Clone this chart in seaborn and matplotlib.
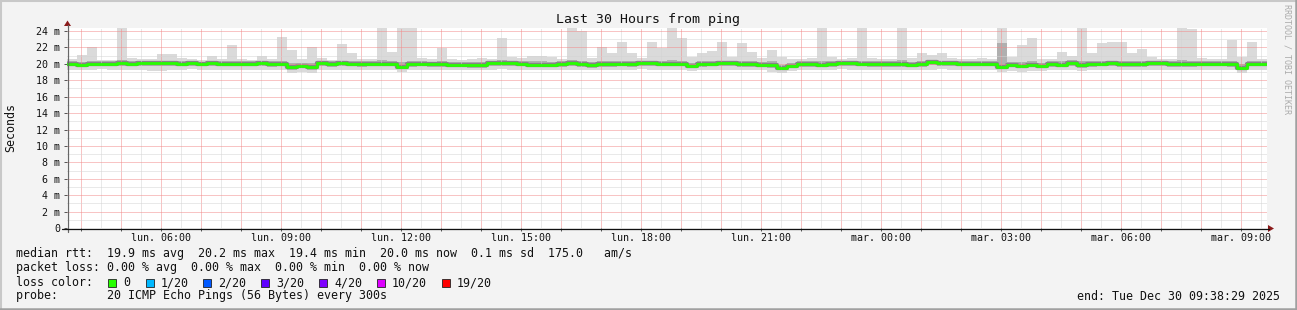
import numpy as np
import pandas as pd
import matplotlib
matplotlib.use("Agg")
import matplotlib.pyplot as plt
import seaborn as sns
from matplotlib.patches import Polygon, Rectangle
from matplotlib.lines import Line2D

# ---------------- data ----------------
START_H = 3 + 38 / 60 + 29 / 3600   # Mon Dec 29 03:38:29, hours since Mon 00:00
STEP_H = 0.25                        # 15 min bins
SPAN_H = 30

median_ms = [20.0,19.85,19.95,20.0,20.0,20.1,20.0,20.05,20.05,20.05,
             20.05,19.95,20.1,19.95,20.05,20.0,20.0,20.0,20.0,20.05,
             19.95,20.0,19.6,19.8,19.65,20.05,19.95,20.05,20.0,19.95,
             20.0,20.0,20.0,19.6,19.95,20.0,19.95,19.95,19.9,19.9,
             19.85,19.85,20.05,20.05,20.05,20.0,19.9,19.9,19.9,19.95,
             20.05,19.95,19.85,19.95,19.95,20.0,19.95,20.05,20.05,20.0,
             20.0,20.0,19.75,19.95,20.0,20.05,20.05,19.95,19.95,19.9,
             19.9,19.5,19.8,19.95,19.95,19.9,19.95,20.05,20.05,20.0,
             19.95,19.95,19.95,19.95,19.9,19.95,20.2,20.05,20.05,20.0,
             20.0,20.0,20.0,19.65,19.9,19.75,19.9,19.8,19.95,19.9,
             20.1,19.85,19.95,20.0,20.05,19.95,19.95,19.95,20.05,20.05,
             19.95,19.95,19.95,20.0,20.0,20.0,19.95,19.5,20.0,20.0]

max_ms = [20.6,21.1,22.0,20.5,20.5,24.5,20.7,20.6,20.6,21.2,
          21.2,20.7,20.6,20.5,21.0,20.6,22.3,20.6,20.5,20.9,
          20.6,23.3,21.7,20.6,22.1,20.7,20.5,22.4,21.3,20.6,
          20.6,24.4,21.5,24.5,24.5,20.7,20.6,21.9,20.6,20.5,
          20.6,20.7,20.6,23.1,20.8,20.7,20.9,20.9,20.8,20.6,
          24.5,24.0,20.7,22.1,21.3,22.7,21.3,20.7,22.7,21.9,
          24.4,23.1,20.8,21.3,21.6,22.7,20.8,22.5,21.5,20.7,
          21.7,20.8,20.6,20.6,20.7,24.5,20.8,20.6,20.7,24.5,
          20.7,20.6,20.6,24.5,20.7,21.3,21.1,21.3,20.7,20.6,
          20.6,20.7,20.6,24.5,20.8,22.3,23.1,20.6,20.6,21.4,
          21.0,24.5,21.3,22.5,22.7,22.7,21.3,21.8,20.8,20.6,
          20.6,24.5,24.2,20.7,20.6,20.6,22.9,20.8,22.7,20.6]

min_ms = [19.3,19.25,19.3,19.35,19.3,19.3,19.25,19.3,19.1,19.1,
          19.3,19.3,19.35,19.3,19.25,19.3,19.3,19.2,19.3,19.3,
          19.25,19.3,18.9,18.95,18.9,19.3,19.3,19.25,19.3,19.3,
          19.3,19.3,19.3,19.0,19.25,19.3,19.3,19.3,19.25,19.3,
          19.2,19.2,19.3,19.35,19.3,19.3,19.25,19.25,19.3,19.3,
          19.3,19.25,19.2,19.3,19.3,19.3,19.3,19.35,19.3,19.3,
          19.3,19.3,19.15,19.3,19.3,19.3,19.3,19.25,19.3,19.2,
          19.0,18.85,19.1,19.25,19.3,19.2,19.3,19.35,19.3,19.3,
          19.25,19.3,19.3,19.3,19.25,19.3,19.3,19.35,19.3,19.3,
          19.3,19.3,19.3,19.0,19.1,19.05,19.1,19.1,19.25,19.25,
          19.3,19.15,19.3,19.3,19.3,19.25,19.3,19.3,19.3,19.3,
          19.25,19.3,19.25,19.3,19.3,19.3,19.25,18.9,19.3,19.3]

q_low_ms = [19.7,19.6,19.7,19.75,19.7,19.8,19.7,19.75,19.7,19.7,
            19.75,19.7,19.8,19.7,19.75,19.7,19.7,19.7,19.7,19.75,
            19.65,19.7,19.3,19.45,19.3,19.75,19.65,19.75,19.7,19.65,
            19.7,19.7,19.7,19.35,19.65,19.7,19.65,19.65,19.6,19.6,
            19.55,19.55,19.75,19.75,19.75,19.7,19.6,19.6,19.6,19.65,
            19.75,19.65,19.55,19.65,19.65,19.7,19.65,19.75,19.75,19.7,
            19.7,19.7,19.45,19.65,19.7,19.75,19.75,19.65,19.65,19.6,
            19.55,19.2,19.5,19.65,19.65,19.6,19.65,19.75,19.75,19.7,
            19.65,19.65,19.65,19.65,19.6,19.65,19.85,19.75,19.75,19.7,
            19.7,19.7,19.7,19.4,19.6,19.45,19.6,19.5,19.65,19.6,
            19.8,19.55,19.65,19.7,19.75,19.65,19.65,19.65,19.75,19.75,
            19.65,19.65,19.65,19.7,19.7,19.7,19.65,19.25,19.7,19.7]

q_high_ms = [20.3,20.25,20.35,20.3,20.3,20.45,20.3,20.35,20.35,20.4,
             20.4,20.3,20.4,20.25,20.35,20.3,20.4,20.3,20.3,20.35,
             20.3,20.4,20.05,20.15,20.05,20.35,20.3,20.4,20.35,20.3,
             20.3,20.45,20.35,20.2,20.4,20.3,20.25,20.3,20.2,20.2,
             20.2,20.2,20.35,20.45,20.4,20.35,20.3,20.3,20.25,20.3,
             20.45,20.4,20.2,20.3,20.3,20.4,20.3,20.35,20.4,20.3,
             20.45,20.4,20.1,20.3,20.35,20.4,20.35,20.35,20.3,20.25,
             20.3,19.9,20.15,20.3,20.3,20.4,20.3,20.35,20.35,20.4,
             20.3,20.3,20.3,20.45,20.25,20.3,20.5,20.4,20.35,20.3,
             20.3,20.3,20.35,22.5,20.25,20.2,20.35,20.15,20.3,20.3,
             20.45,20.4,20.3,20.35,20.4,20.35,20.3,20.3,20.35,20.35,
             20.3,20.45,20.4,20.3,20.3,20.3,20.35,19.95,20.35,20.3]

y_ticks = [0, 2, 4, 6, 8, 10, 12, 14, 16, 18, 20, 22, 24]
y_tick_labels = ["0", "2 m", "4 m", "6 m", "8 m", "10 m", "12 m", "14 m",
                 "16 m", "18 m", "20 m", "22 m", "24 m"]
x_label_hours = [6, 9, 12, 15, 18, 21, 24, 27, 30, 33]
x_tick_labels = ["lun. 06:00", "lun. 09:00", "lun. 12:00", "lun. 15:00",
                 "lun. 18:00", "lun. 21:00", "mar. 00:00", "mar. 03:00",
                 "mar. 06:00", "mar. 09:00"]

title = "Last 30 Hours from ping"
legend_lines = [
    "median rtt:  19.9 ms avg  20.2 ms max  19.4 ms min  20.0 ms now  0.1 ms sd  175.0   am/s",
    "packet loss: 0.00 % avg  0.00 % max  0.00 % min  0.00 % now",
    "loss color:",
    "probe:       20 ICMP Echo Pings (56 Bytes) every 300s",
]
loss_labels = ["0", "1/20", "2/20", "3/20", "4/20", "10/20", "19/20"]
loss_colors = ["#26ff00", "#00b8ff", "#0059ff", "#5e00ff", "#7e00ff", "#dd00ff", "#ff0000"]
end_text = "end: Tue Dec 30 09:38:29 2025"
watermark = "RRDTOOL / TOBI OETIKER"

# ---------------- figure ----------------
sns.set_theme(style="white")
plt.rcParams["font.family"] = ["DejaVu Sans Mono"]
plt.rcParams["text.color"] = "#111111"

W, H = 1297, 310
fig = plt.figure(figsize=(W / 100, H / 100), dpi=100, facecolor="#f3f3f3")

def fx(px):
    return px / W

def fy(py):
    return 1 - py / H

ax = fig.add_axes([fx(67), fy(228), 1200 / W, 200 / H])
ax.set_facecolor("white")

n = len(median_ms)
edges = START_H + STEP_H * np.arange(n + 1)

def ext(a):
    return np.append(np.asarray(a, float), a[-1])

ax.fill_between(edges, ext(min_ms), ext(max_ms), step="post",
                color="#dadada", lw=0, zorder=1)
ax.fill_between(edges, ext(q_low_ms), ext(q_high_ms), step="post",
                color="#b0b0b0", lw=0, zorder=1.2)

df = pd.DataFrame({"t": edges, "rtt": ext(median_ms)})
sns.lineplot(data=df, x="t", y="rtt", drawstyle="steps-post", color="#858585",
             lw=3.1, ax=ax, zorder=1.5)
sns.lineplot(data=df, x="t", y="rtt", drawstyle="steps-post", color="#26ff00",
             lw=2.0, ax=ax, zorder=3)

ax.set_xlim(START_H, START_H + SPAN_H)
ax.set_ylim(0, 24.37)
ax.set_xlabel("")
ax.set_ylabel("")

hours = np.arange(4, 34)
ax.set_xticks(hours)
lab_map = dict(zip(x_label_hours, x_tick_labels))
ax.set_xticklabels([lab_map.get(int(h), "") for h in hours])
ax.set_xticks(np.arange(4.5, 33.6, 1.0), minor=True)
ax.set_yticks(y_ticks)
ax.set_yticklabels(y_tick_labels)
ax.set_yticks(np.arange(1, 25, 2), minor=True)

ax.tick_params(axis="x", which="major", length=2.2, width=0.7, color="#555555",
               pad=1.2, labelsize=7.2, labelcolor="#111111", bottom=True)
ax.tick_params(axis="y", which="major", length=2.2, width=0.7, color="#555555",
               pad=2.9, labelsize=7.2, labelcolor="#111111", left=True)
ax.tick_params(which="minor", length=0)

ax.set_axisbelow(False)
ax.grid(which="major", color="#f28a8a", ls=(0, (1, 1)), lw=0.72)
ax.grid(which="minor", color="#d4d4d4", ls=(0, (1, 1)), lw=0.72)
for s in ax.spines.values():
    s.set_visible(False)

# axis lines with arrows
fig.add_artist(Line2D([fx(67.5), fx(67.5)], [fy(232), fy(25)], transform=fig.transFigure,
                      color="#666666", lw=0.9))
fig.add_artist(Line2D([fx(62), fx(1269)], [fy(228.5), fy(228.5)], transform=fig.transFigure,
                      color="#111111", lw=0.9))
fig.add_artist(Polygon([[fx(64), fy(26)], [fx(71), fy(26)], [fx(67.5), fy(20.5)]],
                       closed=True, transform=fig.transFigure, color="#8b1a1a", lw=0))
fig.add_artist(Polygon([[fx(1268), fy(225)], [fx(1268), fy(232)], [fx(1274), fy(228.5)]],
                       closed=True, transform=fig.transFigure, color="#8b1a1a", lw=0))

# texts
fig.text(fx(648), fy(19), title, ha="center", va="center", fontsize=9.5)
fig.text(fx(11), fy(127), "Seconds", rotation=90, ha="center", va="center", fontsize=8.4)
fig.text(fx(1287), fy(4), watermark, rotation=-90, ha="center", va="top",
         fontsize=6, color="#ababab")

ys = [254, 268, 282.5, 296]
for line, yy in zip(legend_lines, ys):
    fig.text(fx(16), fy(yy), line, ha="left", va="center", fontsize=8.4)
fig.text(fx(1280), fy(296), end_text, ha="right", va="center", fontsize=8.4)

sq_x = [108, 146, 203, 261, 319, 377, 442]
lab_x = [123, 160.5, 218, 276, 334, 392, 457]
for c, lab, sx, lx in zip(loss_colors, loss_labels, sq_x, lab_x):
    fig.add_artist(Rectangle((fx(sx), fy(287)), 8 / W, 8 / H, transform=fig.transFigure,
                             facecolor=c, edgecolor="#222222", lw=0.6))
    fig.text(fx(lx), fy(282.5), lab, ha="left", va="center", fontsize=8.4)

# frame
fig.add_artist(Line2D([0, 1], [fy(0.8), fy(0.8)], transform=fig.transFigure, color="#c8c8c8", lw=1.5))
fig.add_artist(Line2D([fx(0.8), fx(0.8)], [0, 1], transform=fig.transFigure, color="#c8c8c8", lw=1.5))
fig.add_artist(Line2D([0, 1], [fy(308.8), fy(308.8)], transform=fig.transFigure, color="#a0a0a0", lw=1.8))
fig.add_artist(Line2D([fx(1295.8), fx(1295.8)], [0, 1], transform=fig.transFigure, color="#a0a0a0", lw=1.8))

fig.savefig("out.png", dpi=100, facecolor=fig.get_facecolor())
